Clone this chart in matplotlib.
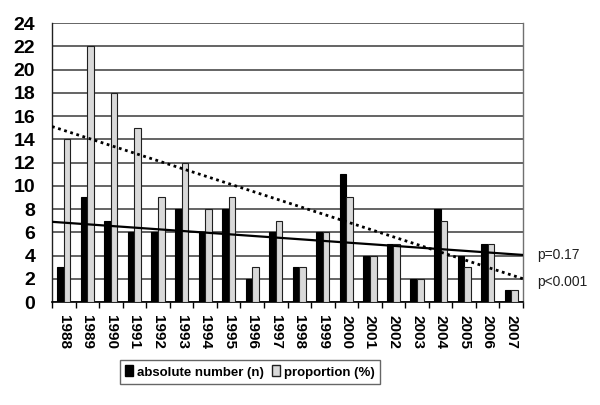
import matplotlib
matplotlib.use("Agg")
import matplotlib.pyplot as plt
import matplotlib.transforms as mtransforms
from matplotlib.patches import Patch
import numpy as np

years = ["1988", "1989", "1990", "1991", "1992", "1993", "1994", "1995", "1996", "1997",
         "1998", "1999", "2000", "2001", "2002", "2003", "2004", "2005", "2006", "2007"]
absolute_n = [3, 9, 7, 6, 6, 8, 6, 8, 2, 6, 3, 6, 11, 4, 5, 2, 8, 4, 5, 1]
proportion_pct = [14, 22, 18, 15, 9, 12, 8, 9, 3, 7, 3, 6, 9, 4, 5, 2, 7, 3, 5, 1]
trend_abs_ends = [6.9, 4.05]     # linear trend of absolute numbers (p=0.17)
trend_prop_ends = [15.1, 2.0]    # linear trend of proportion (p<0.001)
p_labels = ["p=0.17", "p<0.001"]
p_label_y = [4.05, 1.75]
yticks = list(range(0, 25, 2))

fig = plt.figure(figsize=(6.0, 4.05), dpi=100)
ax = fig.add_axes([0.0867, 0.2543, 0.785, 0.6887])

x = np.arange(len(years))
w = 0.28
ax.bar(x - w / 2, absolute_n, width=w, color="black", edgecolor="black", linewidth=0.8,
       zorder=3, label="absolute number (n)")
ax.bar(x + w / 2, proportion_pct, width=w, color="#d9d9d9", edgecolor="#202020", linewidth=0.8,
       zorder=3, label="proportion (%)")

xe = [x[0] - 0.5, x[-1] + 0.5]
ax.plot(xe, trend_abs_ends, color="black", lw=1.6, zorder=4, solid_capstyle="butt")
ax.plot(xe, trend_prop_ends, color="black", lw=2.0, linestyle=(0, (1, 1.3)), zorder=4)

ax.set_xlim(-0.5, len(years) - 0.5)
ax.set_ylim(0, 24)
ax.set_yticks(yticks)
ax.set_yticklabels([str(v) for v in yticks], fontsize=14, fontweight="bold",
                   family="Liberation Sans")
ax.tick_params(axis="y", length=0, pad=12)

ax.set_xticks(x)
ax.set_xticklabels(years, rotation=270, fontsize=11, fontweight="bold", family="Liberation Sans")
ax.set_xticks(np.arange(len(years) + 1) - 0.5, minor=True)
ax.tick_params(axis="x", which="major", length=0, pad=9)
ax.tick_params(axis="x", which="minor", length=4, width=1, color="black", direction="out")

ax.yaxis.grid(True, color="#3a3a3a", lw=1.1, zorder=0)
ax.set_axisbelow(True)
ax.spines["top"].set_visible(False)
ax.spines["right"].set_color("#707070")
ax.spines["right"].set_linewidth(1.0)
ax.spines["left"].set_color("#202020")
ax.spines["left"].set_linewidth(1.0)
ax.spines["bottom"].set_color("black")
ax.spines["bottom"].set_linewidth(1.2)

trans = mtransforms.blended_transform_factory(ax.transAxes, ax.transData)
for lab, yy in zip(p_labels, p_label_y):
    ax.text(1.03, yy, lab, transform=trans, fontsize=10, va="center", ha="left",
            family="Liberation Sans", color="#202020")

handles = [Patch(facecolor="black", edgecolor="black"),
           Patch(facecolor="#d9d9d9", edgecolor="#202020")]
leg = fig.legend(handles, ["absolute number (n)", "proportion (%)"], loc="center",
                 bbox_to_anchor=(250 / 600, 1 - 372 / 405), ncol=2, frameon=True,
                 fancybox=False, edgecolor="#404040", handlelength=0.6, handleheight=0.9,
                 handletextpad=0.3, columnspacing=0.6, borderpad=0.4,
                 prop={"family": "Liberation Sans", "weight": "bold", "size": 9.5})
leg.get_frame().set_linewidth(1.0)

fig.savefig("out.png", dpi=100, facecolor="white")
